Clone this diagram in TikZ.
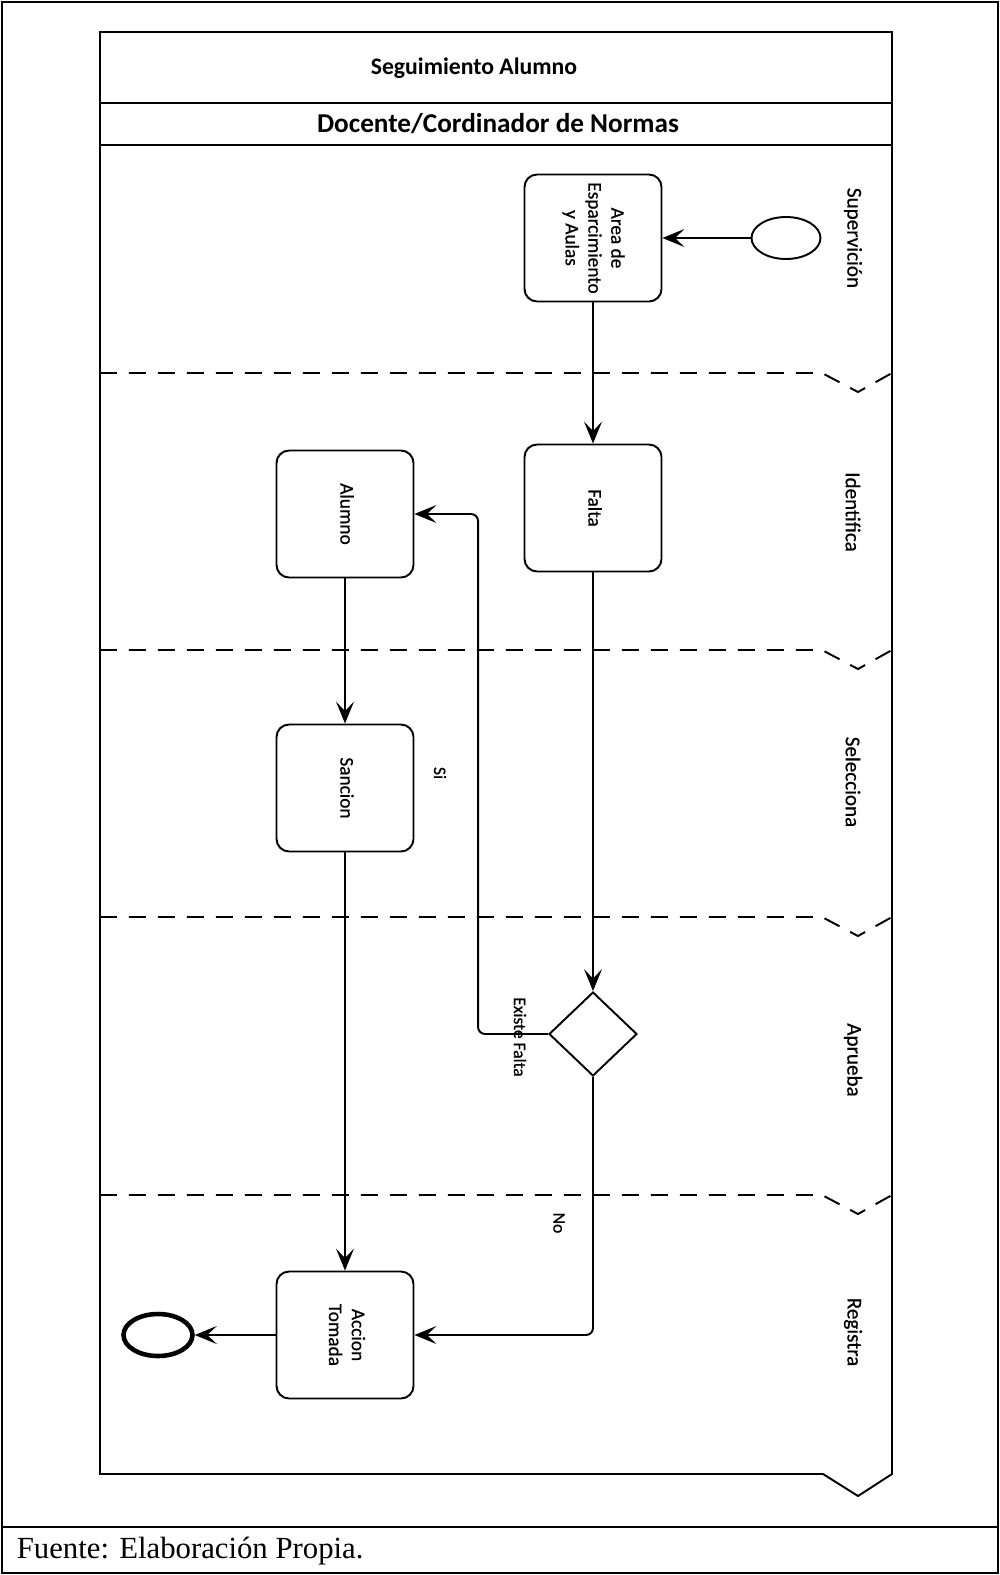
\documentclass[tikz,border=0pt]{standalone}
\usepackage{fontspec}
\setmainfont{Carlito}
\newfontfamily\timesf{Liberation Serif}
\newfontfamily\heavyf[FakeBold=0.6]{Carlito}
\usepackage{graphicx}
\usetikzlibrary{shapes.geometric,arrows.meta,positioning,calc}
\newcommand{\vtext}[1]{\rotatebox{-90}{\begin{tabular}{@{}c@{}}#1\end{tabular}}}

\begin{document}
\begin{tikzpicture}[x=0.02cm,y=-0.02cm,line width=1.1pt,
  arr/.style={-{Stealth[length=4.4mm,width=3.6mm,inset=1.9mm]}},
  act/.style={draw,rounded corners=2.5mm,minimum width=2.74cm,minimum height=2.54cm,inner sep=0pt,font=\heavyf\fontsize{11}{13}\selectfont},
  ev/.style={draw,ellipse,minimum width=1.38cm,minimum height=0.84cm},
  gate/.style={draw,diamond,minimum width=1.76cm,minimum height=1.68cm,inner sep=0pt},
  lane/.style={rotate=-90,font=\heavyf\fontsize{12}{13}\selectfont},
  sep/.style={dash pattern=on 0.34cm off 0.24cm},
  lbl/.style={rotate=-90,font=\heavyf\fontsize{10}{11}\selectfont}]
  \useasboundingbox (0,0) rectangle (1000,1575);
  \draw[line width=0.8pt] (2,2) rectangle (998,1573);
  \draw[line width=0.8pt] (2,1527) -- (998,1527);
  \node[anchor=west,font=\timesf\fontsize{17.5}{20}\selectfont] (src) at (10,1551) {Fuente: Elaboración Propia.};
  \draw (100,32) rectangle (892,103);
  \draw (100,103) rectangle (892,145);
  \node[font=\bfseries\fontsize{13.5}{16}\selectfont] (tit) at (474,68) {Seguimiento Alumno};
  \node[font=\bfseries\fontsize{15.5}{16}\selectfont] (rol) at (498,124) {Docente/Cordinador de Normas};
  \draw (100,145) -- (100,1474) -- (823,1474) -- (858,1496) -- (892,1474) -- (892,145);
  \foreach \y in {373,650,917,1195}
    \draw[sep] (100,\y) -- (822,\y) -- (858,\y+19) -- (892,\y);
  \node[lane] (l1) at (853,238) {Supervición};
  \node[lane] (l2) at (853,512) {Identifica};
  \node[lane] (l3) at (853,782) {Selecciona};
  \node[lane] (l4) at (853,1060) {Aprueba};
  \node[lane] (l5) at (853,1332) {Registra};
  \node[ev] (ini) at (786,238) {};
  \node[act] (area) at (593,238) {\vtext{Area de\\Esparcimiento\\y Aulas}};
  \node[act] (falta) at (593,508) {\vtext{Falta}};
  \node[act] (alum) at (345,514) {\vtext{Alumno}};
  \node[act] (sanc) at (345,788) {\vtext{Sancion}};
  \node[gate] (dec) at (593,1034) {};
  \node[act] (acc) at (345,1335) {\vtext{Accion\\Tomada}};
  \node[ev,line width=2.6pt] (fin) at (158,1335) {};
  \draw[arr] (ini) -- (area);
  \draw[arr] (area) -- (falta);
  \draw[arr] (falta) -- (dec);
  \draw[arr] (alum) -- (sanc);
  \draw[arr] (sanc) -- (acc);
  \draw[arr] (acc) -- (fin);
  \draw[arr,rounded corners=4pt] (dec.west) -- ++(-70,0) |- (alum.east);
  \draw[arr,rounded corners=4pt] (dec.south) |- (acc.east);
  \node[lbl] (si) at (440,773) {Si};
  \node[lbl] (ef) at (520,1037) {Existe Falta};
  \node[lbl] (no) at (559,1223) {No};
\end{tikzpicture}
\end{document}
